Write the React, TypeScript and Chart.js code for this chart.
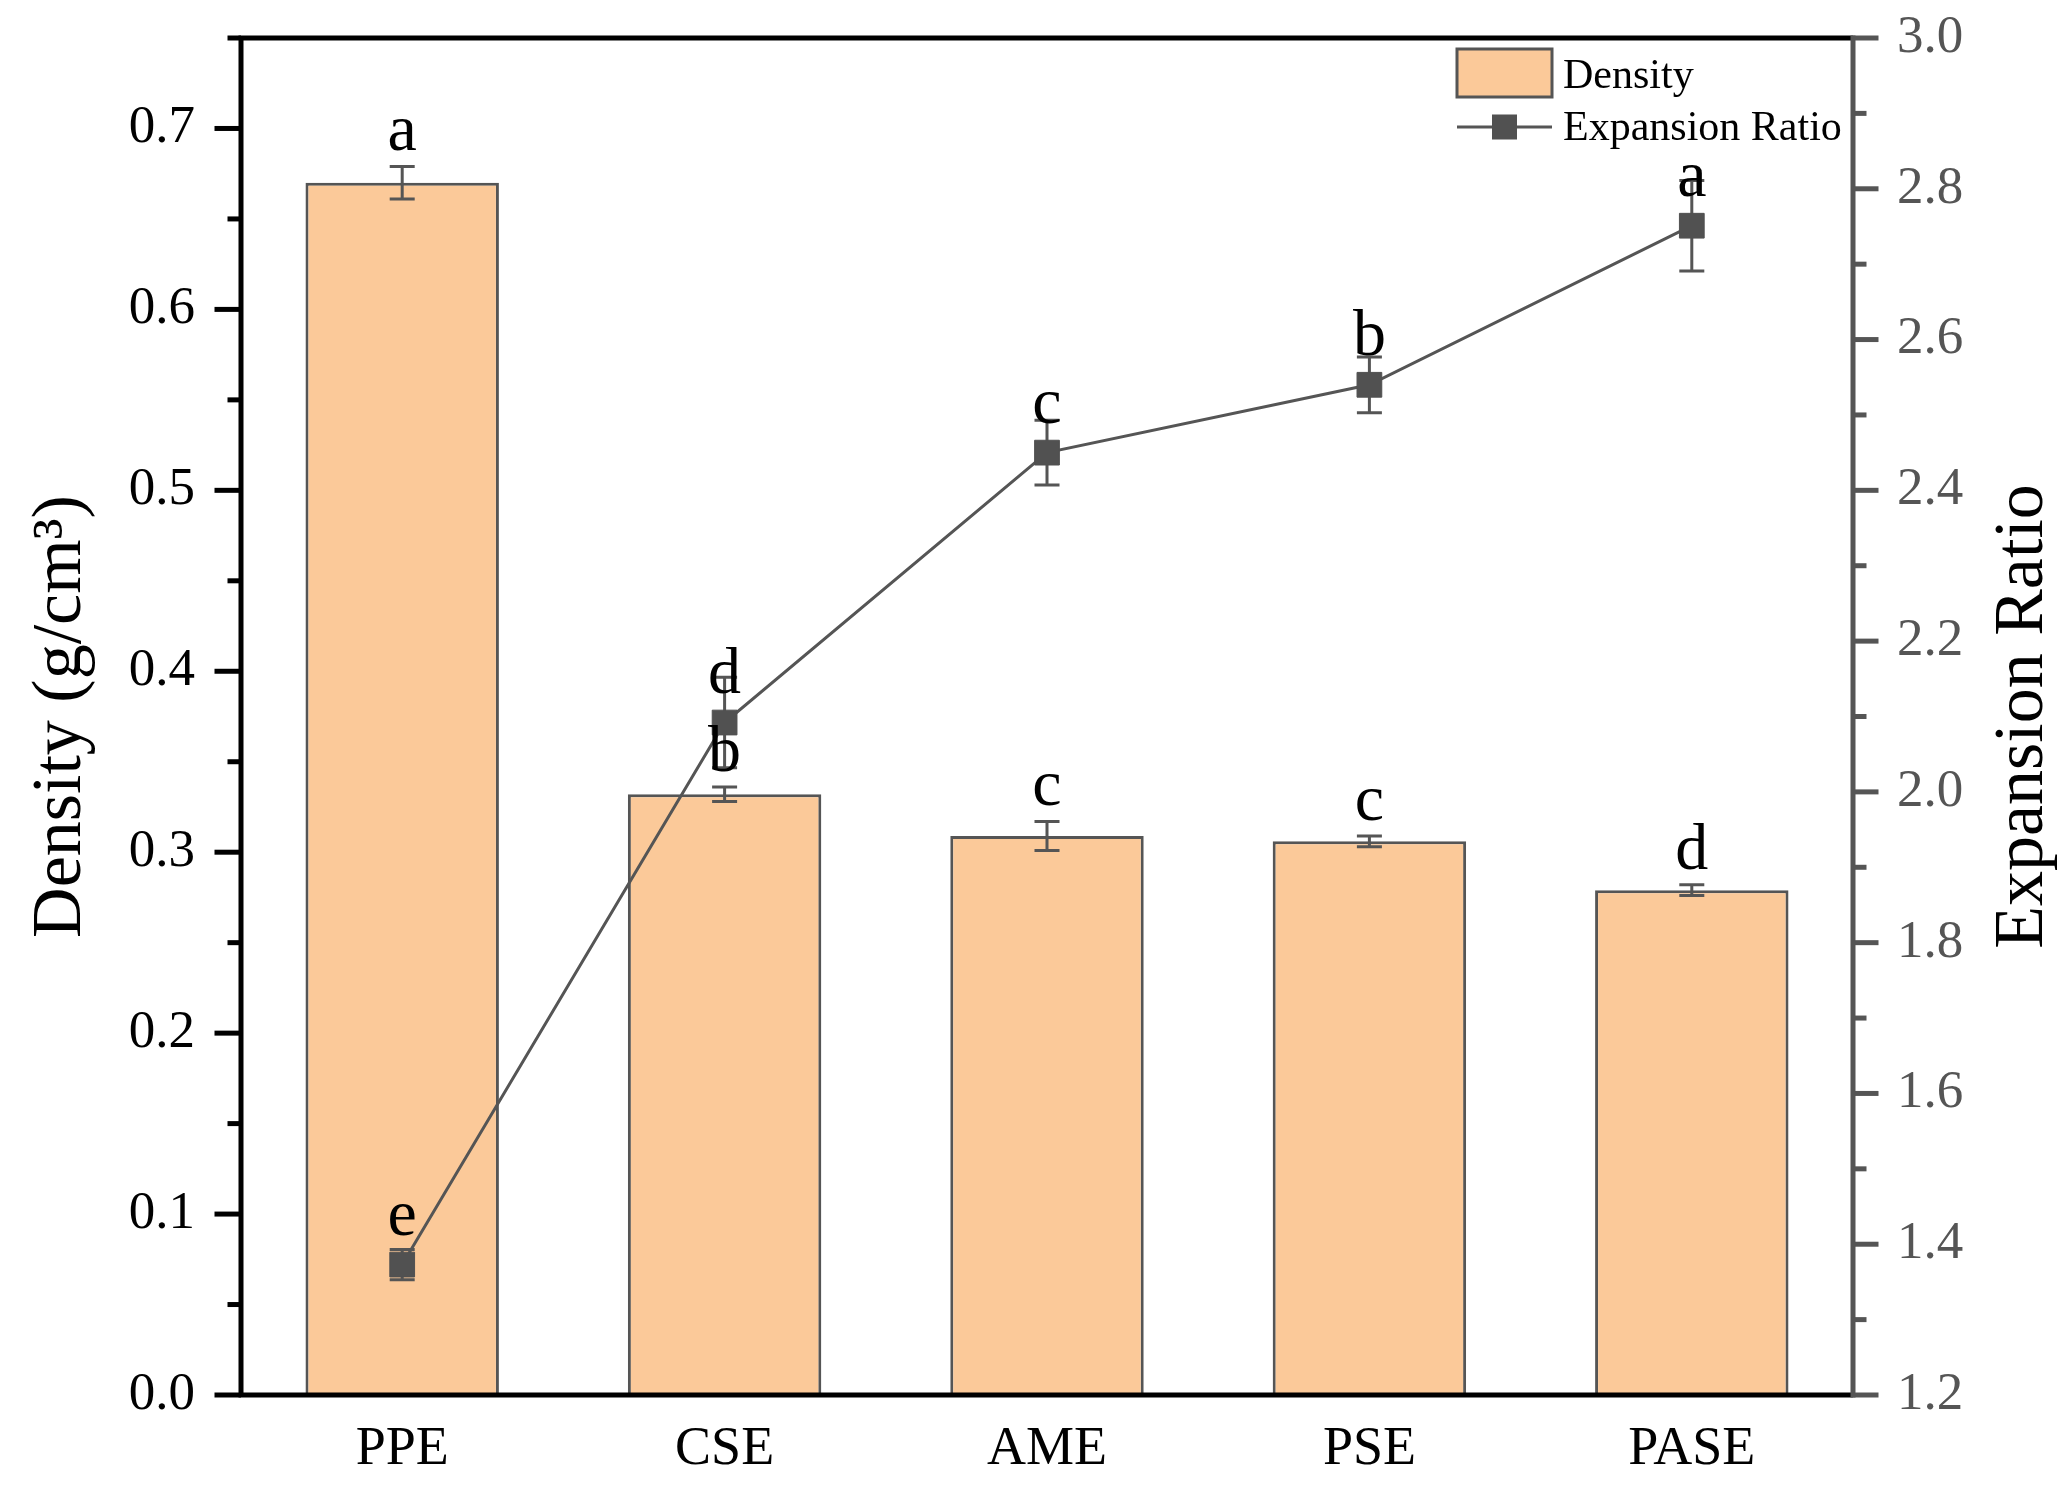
import React, { useEffect, useRef } from 'react';
import { Chart, registerables } from 'chart.js';

Chart.register(...registerables);

const categories = ['PPE', 'CSE', 'AME', 'PSE', 'PASE'];
const density = [0.67, 0.332, 0.309, 0.306, 0.279];
const densityErr = [0.009, 0.004, 0.008, 0.003, 0.003];
const densityLetters = ['a', 'b', 'c', 'c', 'd'];
const expansion = [1.373, 2.092, 2.45, 2.54, 2.751];
const expansionErr = [0.02, 0.06, 0.043, 0.037, 0.06];
const expansionLetters = ['e', 'd', 'c', 'b', 'a'];
const densityTickLabels = ['0.0', '0.1', '0.2', '0.3', '0.4', '0.5', '0.6', '0.7'];
const ratioTickLabels = ['1.2', '1.4', '1.6', '1.8', '2.0', '2.2', '2.4', '2.6', '2.8', '3.0'];

const FONT = '"Liberation Serif", "Times New Roman", serif';
const BAR_FILL = 'rgb(251,201,153)';
const GRAY = '#555555';

function errbar(ctx: CanvasRenderingContext2D, px: number, top: number, bot: number, half: number) {
  ctx.beginPath();
  ctx.moveTo(px, top);
  ctx.lineTo(px, bot);
  ctx.moveTo(px - half, top);
  ctx.lineTo(px + half, top);
  ctx.moveTo(px - half, bot);
  ctx.lineTo(px + half, bot);
  ctx.stroke();
}

const overlay = {
  id: 'overlay',
  afterDatasetDraw(chart: any, args: any) {
    if (args.index !== 0) return;
    const ctx: CanvasRenderingContext2D = chart.ctx;
    const x = chart.scales.x, y = chart.scales.y, y1 = chart.scales.y1;
    ctx.save();
    ctx.strokeStyle = GRAY;
    ctx.lineWidth = 3;
    density.forEach((v, i) => {
      errbar(ctx, x.getPixelForValue(i), y.getPixelForValue(v + densityErr[i]), y.getPixelForValue(v - densityErr[i]), 12.5);
    });
    expansion.forEach((v, i) => {
      errbar(ctx, x.getPixelForValue(i), y1.getPixelForValue(v + expansionErr[i]), y1.getPixelForValue(v - expansionErr[i]), 12.5);
    });
    ctx.restore();
  },
  afterDatasetsDraw(chart: any) {
    const ctx: CanvasRenderingContext2D = chart.ctx;
    const { left, right, top, bottom } = chart.chartArea;
    const x = chart.scales.x, y = chart.scales.y, y1 = chart.scales.y1;
    ctx.save();
    // axis lines
    ctx.lineCap = 'butt';
    ctx.lineWidth = 5;
    ctx.strokeStyle = '#000';
    ctx.beginPath();
    ctx.moveTo(left - 2.5, top); ctx.lineTo(right, top);
    ctx.moveTo(left, top); ctx.lineTo(left, bottom);
    ctx.moveTo(left - 2.5, bottom); ctx.lineTo(right, bottom);
    ctx.stroke();
    // left ticks
    y.ticks.forEach((t: any) => {
      const py = y.getPixelForValue(t.value);
      const major = Math.round(t.value * 100) % 10 === 0;
      const len = major ? 24 : 11;
      ctx.beginPath();
      ctx.moveTo(left - len - 2.5, py); ctx.lineTo(left, py);
      ctx.stroke();
    });
    // right axis
    ctx.strokeStyle = GRAY;
    ctx.beginPath();
    ctx.moveTo(right, top - 2.5); ctx.lineTo(right, bottom + 2.5);
    ctx.stroke();
    y1.ticks.forEach((t: any) => {
      const py = y1.getPixelForValue(t.value);
      const major = Math.round(t.value * 10) % 2 === 0;
      const len = major ? 23 : 11;
      ctx.beginPath();
      ctx.moveTo(right, py); ctx.lineTo(right + len + 2.5, py);
      ctx.stroke();
    });
    // letters
    ctx.fillStyle = '#000';
    ctx.font = `66px ${FONT}`;
    ctx.textAlign = 'center';
    ctx.textBaseline = 'alphabetic';
    density.forEach((v, i) => {
      ctx.fillText(densityLetters[i], x.getPixelForValue(i), y.getPixelForValue(v + densityErr[i]) - 16);
    });
    expansion.forEach((v, i) => {
      ctx.fillText(expansionLetters[i], x.getPixelForValue(i), y1.getPixelForValue(v) - 30);
    });
    // legend
    ctx.fillStyle = BAR_FILL;
    ctx.fillRect(1457, 49, 95, 48);
    ctx.lineWidth = 3;
    ctx.strokeStyle = GRAY;
    ctx.strokeRect(1457, 49, 95, 48);
    ctx.beginPath();
    ctx.moveTo(1457, 127); ctx.lineTo(1552, 127);
    ctx.stroke();
    ctx.fillStyle = '#515151';
    ctx.fillRect(1504.5 - 12.5, 127 - 12.5, 25, 25);
    ctx.fillStyle = '#000';
    ctx.font = `42px ${FONT}`;
    ctx.textAlign = 'left';
    ctx.fillText(chart.data.datasets[0].label, 1563, 88);
    ctx.fillText(chart.data.datasets[1].label, 1563, 140);
    // axis titles
    ctx.font = `70px ${FONT}`;
    ctx.textAlign = 'center';
    ctx.textBaseline = 'middle';
    const cy = (top + bottom) / 2;
    ctx.save();
    ctx.translate(62, cy);
    ctx.rotate(-Math.PI / 2);
    ctx.fillText('Density (g/cm\u00B3)', 0, 0);
    ctx.restore();
    ctx.save();
    ctx.translate(2024, cy);
    ctx.rotate(-Math.PI / 2);
    ctx.fillText('Expansion Ratio', 0, 0);
    ctx.restore();
    ctx.restore();
  },
};

export default function App() {
  const ref = useRef<HTMLCanvasElement | null>(null);
  useEffect(() => {
    if (!ref.current) return;
    const chart = new Chart(ref.current, {
      type: 'bar',
      data: {
        labels: categories,
        datasets: [
          {
            type: 'bar',
            label: 'Density',
            data: density,
            yAxisID: 'y',
            backgroundColor: BAR_FILL,
            borderColor: GRAY,
            borderWidth: 3,
            barPercentage: 0.6,
            categoryPercentage: 1.0,
            order: 1,
          },
          {
            type: 'line',
            label: 'Expansion Ratio',
            data: expansion,
            yAxisID: 'y1',
            borderColor: GRAY,
            borderWidth: 3,
            pointStyle: 'rect',
            pointRadius: 17.5,
            pointBackgroundColor: '#515151',
            pointBorderColor: '#515151',
            pointBorderWidth: 1,
            tension: 0,
            order: 0,
          } as any,
        ],
      },
      options: {
        responsive: false,
        devicePixelRatio: 1,
        animation: false,
        layout: { padding: { top: 38, left: 0, right: 0, bottom: 0 } },
        plugins: { legend: { display: false }, tooltip: { enabled: false } },
        scales: {
          x: {
            type: 'category',
            grid: { display: false, drawTicks: false },
            border: { display: false },
            ticks: { color: '#000', font: { family: FONT, size: 54 }, padding: 22 },
            afterFit: (s: any) => { s.height = 106; s.paddingLeft = 0; s.paddingRight = 0; },
          },
          y: {
            type: 'linear',
            position: 'left',
            min: 0,
            max: 0.75,
            grid: { display: false, drawTicks: false },
            border: { display: false },
            ticks: {
              stepSize: 0.05,
              color: '#000',
              font: { family: FONT, size: 53 },
              padding: 46,
              callback: (v: any) => {
                const k = Math.round(Number(v) * 100);
                return k % 10 === 0 ? densityTickLabels[k / 10] : '';
              },
            },
            afterFit: (s: any) => { s.width = 241; s.paddingTop = 0; s.paddingBottom = 0; },
          },
          y1: {
            type: 'linear',
            position: 'right',
            min: 1.2,
            max: 3.0,
            grid: { display: false, drawTicks: false },
            border: { display: false },
            ticks: {
              stepSize: 0.1,
              color: GRAY,
              font: { family: FONT, size: 53 },
              padding: 44,
              callback: (v: any) => {
                const k = Math.round(Number(v) * 10);
                return k % 2 === 0 ? ratioTickLabels[(k - 12) / 2] : '';
              },
            },
            afterFit: (s: any) => { s.width = 2071 - 1853; s.paddingTop = 0; s.paddingBottom = 0; },
          },
        },
      },
      plugins: [overlay],
    });
    return () => chart.destroy();
  }, []);
  return (
    <div style={{ position: 'absolute', left: 0, top: 0, width: 2071, height: 1501 }}>
      <canvas ref={ref} width={2071} height={1501} style={{ width: 2071, height: 1501 }} />
    </div>
  );
}
